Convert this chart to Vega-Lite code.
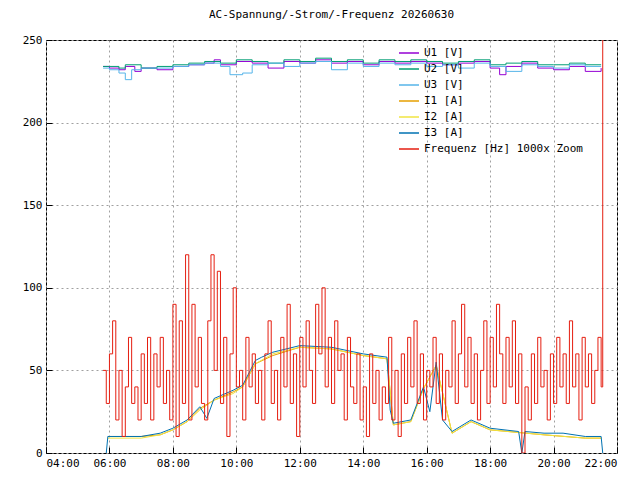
{
  "$schema": "https://vega.github.io/schema/vega-lite/v6.json",
  "autosize": "none",
  "width": 571,
  "height": 413,
  "padding": {"left": 46, "top": 40, "right": 23, "bottom": 27},
  "background": "white",
  "title": {"text": "AC-Spannung/-Strom/-Frequenz 20260630", "font": "DejaVu Sans Mono", "fontSize": 11, "fontWeight": "normal", "offset": 14},
  "datasets": {
    "u1": [{"t":5.8,"v":234},{"t":6.0,"v":233},{"t":6.3,"v":232},{"t":6.5,"v":234},{"t":6.8,"v":231},{"t":7.0,"v":233},{"t":7.5,"v":232},{"t":8.0,"v":234},{"t":8.5,"v":235},{"t":9.0,"v":236},{"t":9.3,"v":238},{"t":9.5,"v":235},{"t":10.0,"v":237},{"t":10.5,"v":236},{"t":11.0,"v":233},{"t":11.5,"v":237},{"t":12.0,"v":236},{"t":12.5,"v":238},{"t":13.0,"v":236},{"t":13.5,"v":237},{"t":14.0,"v":235},{"t":14.5,"v":237},{"t":15.0,"v":236},{"t":15.5,"v":237},{"t":16.0,"v":236},{"t":16.5,"v":235},{"t":17.0,"v":236},{"t":17.5,"v":237},{"t":18.0,"v":233},{"t":18.3,"v":229},{"t":18.5,"v":234},{"t":19.0,"v":236},{"t":19.5,"v":233},{"t":20.0,"v":232},{"t":20.5,"v":234},{"t":21.0,"v":231},{"t":21.5,"v":233}],
    "u2": [{"t":5.8,"v":234},{"t":6.0,"v":234},{"t":6.3,"v":233},{"t":6.5,"v":235},{"t":7.0,"v":233},{"t":7.5,"v":234},{"t":8.0,"v":235},{"t":8.5,"v":236},{"t":9.0,"v":237},{"t":9.5,"v":236},{"t":10.0,"v":238},{"t":10.5,"v":237},{"t":11.0,"v":236},{"t":11.5,"v":238},{"t":12.0,"v":237},{"t":12.5,"v":239},{"t":13.0,"v":237},{"t":13.5,"v":238},{"t":14.0,"v":236},{"t":14.5,"v":238},{"t":15.0,"v":237},{"t":15.5,"v":238},{"t":16.0,"v":237},{"t":16.5,"v":236},{"t":17.0,"v":237},{"t":17.5,"v":238},{"t":18.0,"v":235},{"t":18.5,"v":236},{"t":19.0,"v":237},{"t":19.5,"v":235},{"t":20.0,"v":235},{"t":20.5,"v":236},{"t":21.0,"v":235},{"t":21.5,"v":235}],
    "u3": [{"t":5.8,"v":233},{"t":6.0,"v":232},{"t":6.3,"v":230},{"t":6.5,"v":226},{"t":6.7,"v":232},{"t":7.0,"v":233},{"t":7.5,"v":233},{"t":8.0,"v":234},{"t":8.5,"v":235},{"t":9.0,"v":236},{"t":9.5,"v":234},{"t":9.8,"v":229},{"t":10.2,"v":230},{"t":10.5,"v":235},{"t":11.0,"v":236},{"t":11.5,"v":234},{"t":12.0,"v":236},{"t":12.5,"v":237},{"t":13.0,"v":232},{"t":13.5,"v":236},{"t":14.0,"v":234},{"t":14.5,"v":236},{"t":15.0,"v":235},{"t":15.5,"v":236},{"t":16.0,"v":234},{"t":16.5,"v":235},{"t":17.0,"v":233},{"t":17.5,"v":236},{"t":18.0,"v":234},{"t":18.5,"v":231},{"t":19.0,"v":235},{"t":19.5,"v":234},{"t":20.0,"v":233},{"t":20.5,"v":235},{"t":21.0,"v":234},{"t":21.5,"v":234}],
    "i3": [{"t":5.9,"v":0},{"t":5.95,"v":10},{"t":6.5,"v":10},{"t":7.0,"v":10},{"t":7.6,"v":12},{"t":8.0,"v":15},{"t":8.45,"v":20},{"t":8.85,"v":28},{"t":9.07,"v":21},{"t":9.3,"v":33},{"t":9.9,"v":38},{"t":10.2,"v":41},{"t":10.6,"v":56},{"t":10.8,"v":58},{"t":11.15,"v":61},{"t":12.0,"v":65},{"t":13.0,"v":64},{"t":14.0,"v":60},{"t":14.75,"v":58},{"t":14.85,"v":26},{"t":14.95,"v":18},{"t":15.5,"v":20},{"t":15.9,"v":40},{"t":16.1,"v":25},{"t":16.3,"v":55},{"t":16.5,"v":20},{"t":16.8,"v":13},{"t":17.4,"v":20},{"t":18.0,"v":15},{"t":18.9,"v":13},{"t":19.0,"v":0},{"t":19.1,"v":13},{"t":19.7,"v":12},{"t":20.3,"v":12},{"t":21.0,"v":10},{"t":21.5,"v":10},{"t":21.55,"v":0}],
    "i1": [{"t":5.95,"v":10},{"t":7.0,"v":10},{"t":7.6,"v":11},{"t":8.0,"v":14},{"t":8.45,"v":19},{"t":8.85,"v":27},{"t":9.3,"v":32},{"t":9.9,"v":37},{"t":10.2,"v":40},{"t":10.6,"v":54},{"t":11.15,"v":59},{"t":12.0,"v":64},{"t":13.0,"v":63},{"t":14.0,"v":59},{"t":14.75,"v":57},{"t":14.95,"v":17},{"t":15.5,"v":19},{"t":15.9,"v":39},{"t":16.3,"v":53},{"t":16.8,"v":12},{"t":17.4,"v":19},{"t":18.0,"v":14},{"t":19.7,"v":11},{"t":21.0,"v":9},{"t":21.5,"v":9}],
    "i2": [{"t":5.95,"v":9},{"t":7.0,"v":9},{"t":7.6,"v":11},{"t":8.0,"v":14},{"t":8.45,"v":19},{"t":8.85,"v":26},{"t":9.3,"v":32},{"t":9.9,"v":36},{"t":10.2,"v":40},{"t":10.6,"v":54},{"t":11.15,"v":60},{"t":12.0,"v":64},{"t":13.0,"v":63},{"t":14.0,"v":59},{"t":14.75,"v":57},{"t":14.95,"v":17},{"t":15.5,"v":19},{"t":15.9,"v":39},{"t":16.3,"v":53},{"t":16.8,"v":12},{"t":17.4,"v":19},{"t":18.0,"v":14},{"t":19.7,"v":11},{"t":21.0,"v":9},{"t":21.5,"v":9}],
    "f": [{"t":5.8,"v":50},{"t":5.9,"v":30},{"t":6.0,"v":60},{"t":6.1,"v":80},{"t":6.2,"v":20},{"t":6.3,"v":50},{"t":6.4,"v":10},{"t":6.5,"v":40},{"t":6.6,"v":70},{"t":6.7,"v":30},{"t":6.8,"v":40},{"t":6.9,"v":20},{"t":7.0,"v":60},{"t":7.1,"v":30},{"t":7.2,"v":70},{"t":7.3,"v":20},{"t":7.4,"v":60},{"t":7.5,"v":40},{"t":7.6,"v":70},{"t":7.7,"v":30},{"t":7.8,"v":50},{"t":7.9,"v":20},{"t":8.0,"v":90},{"t":8.1,"v":10},{"t":8.2,"v":80},{"t":8.3,"v":30},{"t":8.4,"v":120},{"t":8.5,"v":20},{"t":8.6,"v":90},{"t":8.7,"v":40},{"t":8.8,"v":70},{"t":8.9,"v":30},{"t":9.0,"v":20},{"t":9.1,"v":80},{"t":9.2,"v":120},{"t":9.3,"v":50},{"t":9.4,"v":110},{"t":9.5,"v":30},{"t":9.6,"v":70},{"t":9.7,"v":10},{"t":9.8,"v":60},{"t":9.9,"v":100},{"t":10.0,"v":40},{"t":10.1,"v":50},{"t":10.2,"v":20},{"t":10.3,"v":70},{"t":10.4,"v":40},{"t":10.5,"v":60},{"t":10.6,"v":30},{"t":10.7,"v":50},{"t":10.8,"v":20},{"t":10.9,"v":60},{"t":11.0,"v":80},{"t":11.1,"v":30},{"t":11.2,"v":50},{"t":11.3,"v":20},{"t":11.4,"v":70},{"t":11.5,"v":40},{"t":11.6,"v":90},{"t":11.7,"v":30},{"t":11.8,"v":60},{"t":11.9,"v":10},{"t":12.0,"v":70},{"t":12.1,"v":40},{"t":12.2,"v":80},{"t":12.3,"v":50},{"t":12.4,"v":30},{"t":12.5,"v":90},{"t":12.6,"v":60},{"t":12.7,"v":100},{"t":12.8,"v":40},{"t":12.9,"v":70},{"t":13.0,"v":30},{"t":13.1,"v":80},{"t":13.2,"v":50},{"t":13.3,"v":60},{"t":13.4,"v":20},{"t":13.5,"v":70},{"t":13.6,"v":40},{"t":13.7,"v":30},{"t":13.8,"v":60},{"t":13.9,"v":20},{"t":14.0,"v":40},{"t":14.1,"v":10},{"t":14.2,"v":60},{"t":14.3,"v":30},{"t":14.4,"v":50},{"t":14.5,"v":20},{"t":14.6,"v":40},{"t":14.7,"v":30},{"t":14.8,"v":70},{"t":14.9,"v":20},{"t":15.0,"v":50},{"t":15.1,"v":10},{"t":15.2,"v":60},{"t":15.3,"v":30},{"t":15.4,"v":70},{"t":15.5,"v":40},{"t":15.6,"v":80},{"t":15.7,"v":30},{"t":15.8,"v":60},{"t":15.9,"v":20},{"t":16.0,"v":50},{"t":16.1,"v":40},{"t":16.2,"v":70},{"t":16.3,"v":30},{"t":16.4,"v":60},{"t":16.5,"v":20},{"t":16.6,"v":50},{"t":16.7,"v":40},{"t":16.8,"v":80},{"t":16.9,"v":30},{"t":17.0,"v":60},{"t":17.1,"v":90},{"t":17.2,"v":40},{"t":17.3,"v":70},{"t":17.4,"v":30},{"t":17.5,"v":60},{"t":17.6,"v":20},{"t":17.7,"v":50},{"t":17.8,"v":80},{"t":17.9,"v":30},{"t":18.0,"v":70},{"t":18.1,"v":40},{"t":18.2,"v":90},{"t":18.3,"v":60},{"t":18.4,"v":30},{"t":18.5,"v":70},{"t":18.6,"v":40},{"t":18.7,"v":80},{"t":18.8,"v":30},{"t":18.9,"v":60},{"t":19.0,"v":0},{"t":19.1,"v":40},{"t":19.2,"v":20},{"t":19.3,"v":60},{"t":19.4,"v":30},{"t":19.5,"v":70},{"t":19.6,"v":40},{"t":19.7,"v":50},{"t":19.8,"v":20},{"t":19.9,"v":60},{"t":20.0,"v":30},{"t":20.1,"v":70},{"t":20.2,"v":40},{"t":20.3,"v":60},{"t":20.4,"v":30},{"t":20.5,"v":80},{"t":20.6,"v":40},{"t":20.7,"v":60},{"t":20.8,"v":20},{"t":20.9,"v":70},{"t":21.0,"v":40},{"t":21.1,"v":60},{"t":21.2,"v":30},{"t":21.3,"v":50},{"t":21.4,"v":70},{"t":21.5,"v":40},{"t":21.55,"v":1000}]
  },
  "encoding": {
    "x": {"field": "t", "type": "quantitative", "scale": {"domain": [4, 22], "nice": false},
      "axis": {"title": null, "values": [4,6,8,10,12,14,16,18,20,22], "labelExpr": "(datum.value < 10 ? '0' : '') + datum.value + ':00'", "minExtent": 0}},
    "y": {"field": "v", "type": "quantitative", "scale": {"domain": [0, 250], "nice": false},
      "axis": {"title": null, "values": [0,50,100,150,200,250]}},
    "color": {"scale": {
      "domain": ["U1 [V]","U2 [V]","U3 [V]","I1 [A]","I2 [A]","I3 [A]","Frequenz [Hz] 1000x Zoom"],
      "range": ["#9400d3","#009e73","#56b4e9","#e69f00","#f0e442","#0072b2","#e51e10"]},
      "legend": {"title": null, "orient": "none", "legendX": 352, "legendY": 2, "symbolType": "stroke", "symbolStrokeWidth": 1.5, "labelFont": "DejaVu Sans Mono", "labelFontSize": 11, "labelColor": "black", "rowPadding": 0, "symbolSize": 400}}
  },
  "layer": [
    {"data": {"name": "u1"}, "mark": {"type": "line", "strokeWidth": 1, "interpolate": "step-after"}, "encoding": {"color": {"datum": "U1 [V]"}}},
    {"data": {"name": "u2"}, "mark": {"type": "line", "strokeWidth": 1, "interpolate": "step-after"}, "encoding": {"color": {"datum": "U2 [V]"}}},
    {"data": {"name": "u3"}, "mark": {"type": "line", "strokeWidth": 1, "interpolate": "step-after"}, "encoding": {"color": {"datum": "U3 [V]"}}},
    {"data": {"name": "i1"}, "mark": {"type": "line", "strokeWidth": 1}, "encoding": {"color": {"datum": "I1 [A]"}}},
    {"data": {"name": "i2"}, "mark": {"type": "line", "strokeWidth": 1}, "encoding": {"color": {"datum": "I2 [A]"}}},
    {"data": {"name": "i3"}, "mark": {"type": "line", "strokeWidth": 1}, "encoding": {"color": {"datum": "I3 [A]"}}},
    {"data": {"name": "f"}, "mark": {"type": "line", "strokeWidth": 1, "interpolate": "step-after", "clip": true}, "encoding": {"color": {"datum": "Frequenz [Hz] 1000x Zoom"}}}
  ],
  "config": {
    "view": {"stroke": "black", "strokeWidth": 1},
    "axis": {"grid": true, "gridColor": "#a0a0a0", "gridDash": [2, 3], "gridOpacity": 1, "domain": false, "tickColor": "black", "tickSize": -6, "labelFont": "DejaVu Sans Mono", "labelFontSize": 11, "labelColor": "black", "labelPadding": 10},
    "axisY": {"labelPadding": 10}
  }
}
